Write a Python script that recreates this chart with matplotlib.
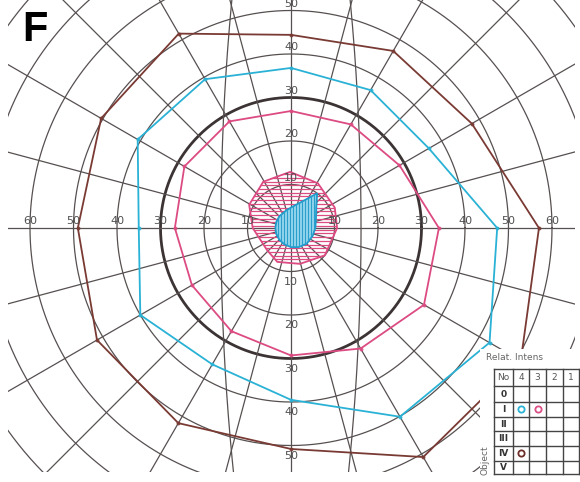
import numpy as np
import matplotlib.pyplot as plt
from matplotlib.patches import Polygon, Rectangle

# Goldmann isopters: meridian (deg) and eccentricity (deg) of each vertex
MERIDIANS = [0, 30, 60, 90, 120, 150, 180, 210, 240, 270, 300, 330]
IV4_ECC = [57, 48, 47, 44.4, 51.6, 50.4, 49, 51.5, 51.8, 50.8, 60.8, 61]
I4_ECC = [47.4, 36.6, 36.6, 36.8, 39.5, 40.7, 35, 40, 36.2, 39.5, 50.1, 52.7]
I3_ECC = [34, 28.8, 27.5, 26.9, 28.3, 28.3, 26.7, 26.3, 27.4, 29.3, 32, 35.3]

# central hatched areas
INNER_PINK_MER = [0, 25, 59, 91, 121, 151, 180, 223, 248, 284, 321, 348]
INNER_PINK_ECC = [10.6, 11.1, 12.0, 12.9, 12.4, 11.0, 8.8, 7.5, 8.4, 8.5, 10.0, 9.9]
INNER_BLUE_MER = [0, 20, 40, 53, 60, 75, 90, 105, 135, 157, 180, 202, 225,
                  247, 270, 292, 315, 340]
INNER_BLUE_ECC = [5.6, 6.1, 7.6, 10.0, 7.9, 5.7, 4.7, 4.2, 3.8, 3.65, 3.6,
                  3.65, 3.8, 4.05, 4.4, 4.75, 5.1, 5.3]

# chart grid
CIRCLES = [10, 20, 30, 40, 50, 60, 70, 80]
MERIDIAN_LINES = list(range(0, 360, 15))
SCALE_LABELS = [10, 20, 30, 40, 50, 60]

# legend table
TABLE_COLS = ["No", "4", "3", "2", "1"]
TABLE_ROWS = ["0", "I", "II", "III", "IV", "V"]
TABLE_MARKS = [(1, 1, "#29b3d6"), (1, 2, "#dc4f86"), (4, 1, "#6e2f2b")]

BROWN = "#7a3a34"
BLUE = "#2ab2d6"
PINK = "#dc4b82"
GRID = "#575050"

W, H = 580, 482
CX, CY, S = 291, 228, 4.35  # centre in pixels, pixels per degree


def px(x, y):
    return (x - CX) / S, (CY - y) / S


def polar(mer, ecc):
    a = np.radians(np.asarray(mer, dtype=float))
    r = np.asarray(ecc, dtype=float)
    return r * np.cos(a), r * np.sin(a)


fig = plt.figure(figsize=(W / 100, H / 100), dpi=100)
ax = fig.add_axes([0, 0, 1, 1])
x0, y1 = px(0, 0)
x1, y0 = px(W, H)
ax.set_xlim(x0, x1)
ax.set_ylim(y0, y1)
ax.axis("off")

cx0, cy1 = px(8, 0)
cx1, cy0 = px(575, 472)
clip = Rectangle((cx0, cy0), cx1 - cx0, cy1 - cy0, transform=ax.transData)

# circles
t = np.linspace(0, 2 * np.pi, 721)
for r in CIRCLES:
    lw, col = (2.0, "#3c3434") if r == 30 else (0.9, GRID)
    ln, = ax.plot(r * np.cos(t), r * np.sin(t), color=col, lw=lw, zorder=1)
    ln.set_clip_path(clip)

# meridians
for m in MERIDIAN_LINES:
    xs, ys = polar([m, m], [0, 95])
    ln, = ax.plot(xs, ys, color=GRID, lw=0.9, zorder=1)
    ln.set_clip_path(clip)

# the two long near-vertical arcs
R = 550.0
yy = np.linspace(-60, 56, 200)
for side in (-1, 1):
    xx = side * (16.1 - (R - np.sqrt(R ** 2 - yy ** 2)))
    ln, = ax.plot(xx, yy, color=GRID, lw=0.9, zorder=1)
    ln.set_clip_path(clip)

# scale numbers
lab = dict(fontsize=8, color="#505050", ha="center", va="center", zorder=4.5)
for r in SCALE_LABELS:
    ax.text(-r, 1.5, str(r), **lab)
    ax.text(r, 1.5, str(r), **lab)
    if r <= 50:
        ax.text(0, r + 1.5, str(r), **lab)
        ax.text(0, -r - 2.4, str(r), **lab)

# outer isopters
for ecc, col in [(IV4_ECC, BROWN), (I4_ECC, BLUE), (I3_ECC, PINK)]:
    xs, ys = polar(MERIDIANS + [MERIDIANS[0]], ecc + [ecc[0]])
    ax.plot(xs, ys, color=col, lw=1.3, zorder=3)
    ax.plot(xs[:-1], ys[:-1], "o", color=col, ms=2.8, mec="none", zorder=4,
            alpha=0.9)

# central pink area, horizontal hatching
xs, ys = polar(INNER_PINK_MER, INNER_PINK_ECC)
pink_poly = Polygon(np.column_stack([xs, ys]), closed=True, fill=False,
                    ec=PINK, lw=1.3, zorder=4)
ax.add_patch(pink_poly)
for h in np.arange(-14, 14, 0.85):
    ln, = ax.plot([-15, 15], [h, h], color=PINK, lw=0.9, zorder=4)
    ln.set_clip_path(pink_poly)

# central blue area, vertical hatching
xs, ys = polar(INNER_BLUE_MER, INNER_BLUE_ECC)
blue_poly = Polygon(np.column_stack([xs, ys]), closed=True, fc="#93d5ec",
                    ec="#1f9ccb", lw=1.3, zorder=5)
ax.add_patch(blue_poly)
for v in np.arange(-8, 12, 0.7):
    ln, = ax.plot([v, v], [-8, 12], color="#2a9fcc", lw=0.8, zorder=5)
    ln.set_clip_path(blue_poly)

# panel letter
ax.text(*px(22, 30), "F", fontsize=30, fontweight="bold", family="Liberation Sans",
        ha="left", va="center", color="black", zorder=6)

# white area behind legend table
bx0, by1 = px(480, 349)
bx1, by0 = px(W, H)
ax.add_patch(Rectangle((bx0, by0), bx1 - bx0, by1 - by0, fc="white",
                       ec="none", zorder=6))
ax.text(*px(486, 358), "Relat. Intens", fontsize=6.5, color="#666666",
        ha="left", va="center", zorder=7)
ax.text(*px(485, 460), "Object", fontsize=6.5, color="#666666", rotation=90,
        ha="center", va="center", zorder=7)

# legend table
col_edges = [0, 19, 35, 52, 69, 85]
row_edges = [0, 17.4, 32.7, 47.7, 62.4, 77, 91.7, 105]
tx, ty = 494, 369
tax = fig.add_axes([tx / W, 1 - (ty + 105) / H, 85 / W, 105 / H])
tax.set_xlim(0, 85)
tax.set_ylim(105, 0)
tax.axis("off")
for c in col_edges:
    tax.plot([c, c], [0, 105], color="#444444", lw=1.0, clip_on=False)
for r in row_edges:
    tax.plot([0, 85], [r, r], color="#444444", lw=1.0, clip_on=False)
for j, name in enumerate(TABLE_COLS):
    tax.text((col_edges[j] + col_edges[j + 1]) / 2, row_edges[1] / 2, name,
             fontsize=6.5, color="#555555", ha="center", va="center")
for i, name in enumerate(TABLE_ROWS):
    tax.text(col_edges[1] / 2, (row_edges[i + 1] + row_edges[i + 2]) / 2, name,
             fontsize=6.5, fontweight="bold", color="#333333",
             ha="center", va="center")
for i, j, col in TABLE_MARKS:
    tax.plot((col_edges[j] + col_edges[j + 1]) / 2,
             (row_edges[i + 1] + row_edges[i + 2]) / 2, "o", mfc="none",
             mec=col, mew=1.3, ms=4.5)

fig.savefig("out.png", dpi=100, facecolor="white")
